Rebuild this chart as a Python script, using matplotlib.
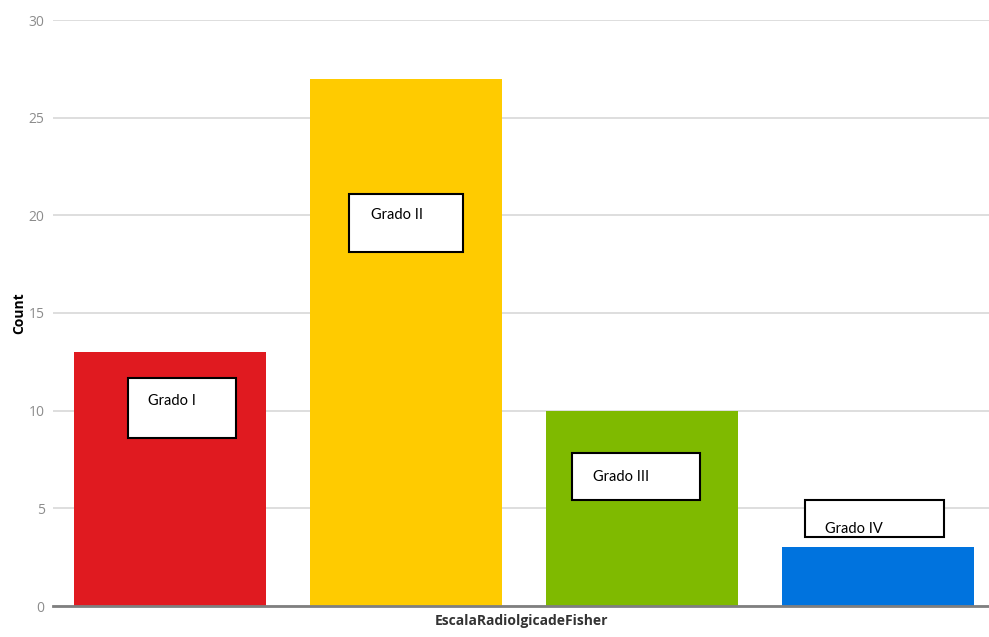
import matplotlib
matplotlib.use('Agg')
import matplotlib.pyplot as plt
from matplotlib.patches import Rectangle

categories = ['Grado I', 'Grado II', 'Grado III', 'Grado IV']
counts = [13, 27, 10, 3]
colors = ['#e01a20', '#ffcb00', '#7fba00', '#0073de']
yticks = [0, 5, 10, 15, 20, 25, 30]

# label boxes: (x0, x1, y0, y1) in data units, text position
boxes = [
    (-0.178, 0.280, 8.60, 11.67, -0.093, 10.5),
    (0.758, 1.242, 18.13, 21.1, 0.852, 20.0),
    (1.703, 2.246, 5.43, 7.83, 1.792, 6.6),
    (2.691, 3.280, 3.53, 5.43, 2.776, 3.95),
]

fig = plt.figure(figsize=(9.89, 6.37), dpi=100)
ax = fig.add_axes([53 / 989, 31 / 637, 936 / 989, 586 / 637])

ax.bar(range(len(counts)), counts, width=0.815, color=colors, zorder=2)

ax.set_xlim(-0.496, 3.47)
ax.set_ylim(0, 30)
ax.set_yticks(yticks)
ax.set_xticks([])
ax.grid(axis='y', color='#d4d4d4', linewidth=1.1, zorder=0)
ax.tick_params(axis='y', length=0, pad=6, labelsize=10, labelcolor='#8c8c8c')
for lbl in ax.get_yticklabels():
    lbl.set_fontfamily('Open Sans')
for s in ['top', 'right', 'left']:
    ax.spines[s].set_visible(False)
ax.spines['bottom'].set_color('#7f7f7f')
ax.spines['bottom'].set_linewidth(2)
ax.spines['bottom'].set_zorder(3)

ax.set_ylabel('Count', fontsize=10, fontweight='bold', family='Open Sans', labelpad=2)
ax.set_xlabel('EscalaRadiolgicadeFisher', fontsize=10, fontweight='bold',
              family='Open Sans', color='#333333', labelpad=6)

for (x0, x1, y0, y1, tx, ty), name in zip(boxes, categories):
    fill = Rectangle((x0, y0), x1 - x0, y1 - y0, facecolor='white',
                     edgecolor='none', zorder=4)
    ax.add_patch(fill)
    t = ax.text(tx, ty, name, fontsize=10.5, family='Lato', va='center',
                ha='left', zorder=5)
    t.set_clip_path(fill)
    ax.add_patch(Rectangle((x0, y0), x1 - x0, y1 - y0, facecolor='none',
                           edgecolor='black', linewidth=1.5, zorder=6))

fig.savefig('out.png', dpi=100)
